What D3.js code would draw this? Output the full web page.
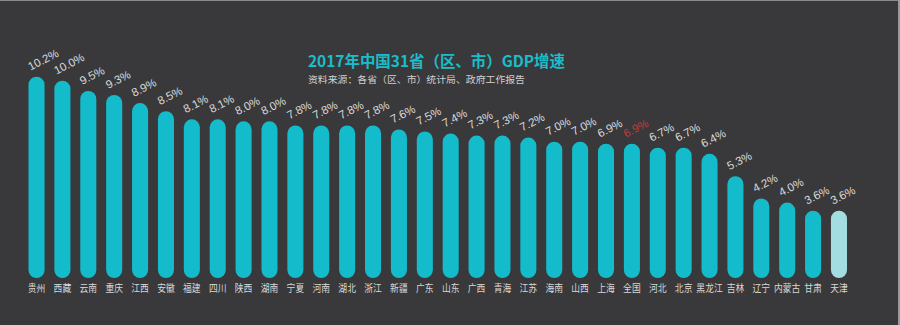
<!DOCTYPE html>
<html><head><meta charset="utf-8">
<script src="https://cdn.jsdelivr.net/npm/d3@7"></script>
<style>
html,body{margin:0;padding:0;background:#39393b;}
svg{display:block;}
</style></head>
<body>
<svg id="chart" width="900" height="325"></svg>
<script>
const categories = ["贵州","西藏","云南","重庆","江西","安徽","福建","四川","陕西","湖南","宁夏","河南","湖北","浙江","新疆","广东","山东","广西","青海","江苏","海南","山西","上海","全国","河北","北京","黑龙江","吉林","辽宁","内蒙古","甘肃","天津"];
const values = [10.2,10.0,9.5,9.3,8.9,8.5,8.1,8.1,8.0,8.0,7.8,7.8,7.8,7.8,7.6,7.5,7.4,7.3,7.3,7.2,7.0,7.0,6.9,6.9,6.7,6.7,6.4,5.3,4.2,4.0,3.6,3.6];
const valueLabels = values.map(v => v.toFixed(1) + "%");
const title = "2017年中国31省（区、市）GDP增速";
const subtitle = "资料来源：各省（区、市）统计局、政府工作报告";

const data = categories.map((c, i) => ({c, v: values[i], label: valueLabels[i]}));
const svg = d3.select("#chart");
const W = 900, H = 325;

svg.append("rect").attr("x",0).attr("y",0).attr("width",W).attr("height",H).attr("fill","#39393b");
svg.append("line").attr("x1",0).attr("x2",W).attr("y1",0.5).attr("y2",0.5).attr("stroke","#8a8a8c").attr("stroke-width",1);
svg.append("line").attr("x1",W-1).attr("x2",W-1).attr("y1",0).attr("y2",H).attr("stroke","#9a9a9c").attr("stroke-width",2);

const x = d3.scaleBand().domain(categories).range([28.5, 847]).paddingInner(0.38).paddingOuter(0);
const y = d3.scaleLinear().domain([0, 10.2]).range([283.8, 76.7]);
const barBottom = 278;

svg.append("g").selectAll("rect").data(data).join("rect")
  .attr("x", d => x(d.c))
  .attr("y", d => y(d.v))
  .attr("width", x.bandwidth())
  .attr("height", d => barBottom - y(d.v))
  .attr("rx", x.bandwidth()/2)
  .attr("ry", x.bandwidth()/2)
  .attr("fill", d => d.c === "天津" ? "#a3dde2" : "#14bccb");

svg.append("g").selectAll("text").data(data).join("text")
  .attr("transform", d => `translate(${x(d.c) + x.bandwidth()/2 - 6},${y(d.v) - 6}) rotate(-27)`)
  .attr("font-family", "'Liberation Sans', Arial, sans-serif")
  .attr("font-size", 11.5)
  .attr("fill", d => d.c === "全国" ? "#c23a3a" : "#dadada")
  .text(d => d.label);

svg.append("g").selectAll("text").data(data).join("text")
  .attr("x", d => x(d.c) + x.bandwidth()/2)
  .attr("y", 292)
  .attr("text-anchor", "middle")
  .attr("font-family", "'Noto Sans CJK SC', sans-serif")
  .attr("font-size", 10)
  .attr("textLength", d => d.c.length * 8.8)
  .attr("lengthAdjust", "spacingAndGlyphs")
  .attr("fill", "#d8d8d8")
  .text(d => d.c);

svg.append("text").attr("x", 308).attr("y", 66.5)
  .attr("font-family", "'Noto Sans CJK SC', sans-serif").attr("font-weight", "bold")
  .attr("font-size", 15.5).attr("fill", "#1bbdca")
  .attr("textLength", 257).attr("lengthAdjust","spacingAndGlyphs")
  .text(title);
svg.append("text").attr("x", 308).attr("y", 82.5)
  .attr("font-family", "'Noto Sans CJK SC', sans-serif")
  .attr("font-size", 9.5).attr("fill", "#d0d0d0")
  .attr("textLength", 217).attr("lengthAdjust","spacingAndGlyphs")
  .text(subtitle);
</script>
</body></html>
